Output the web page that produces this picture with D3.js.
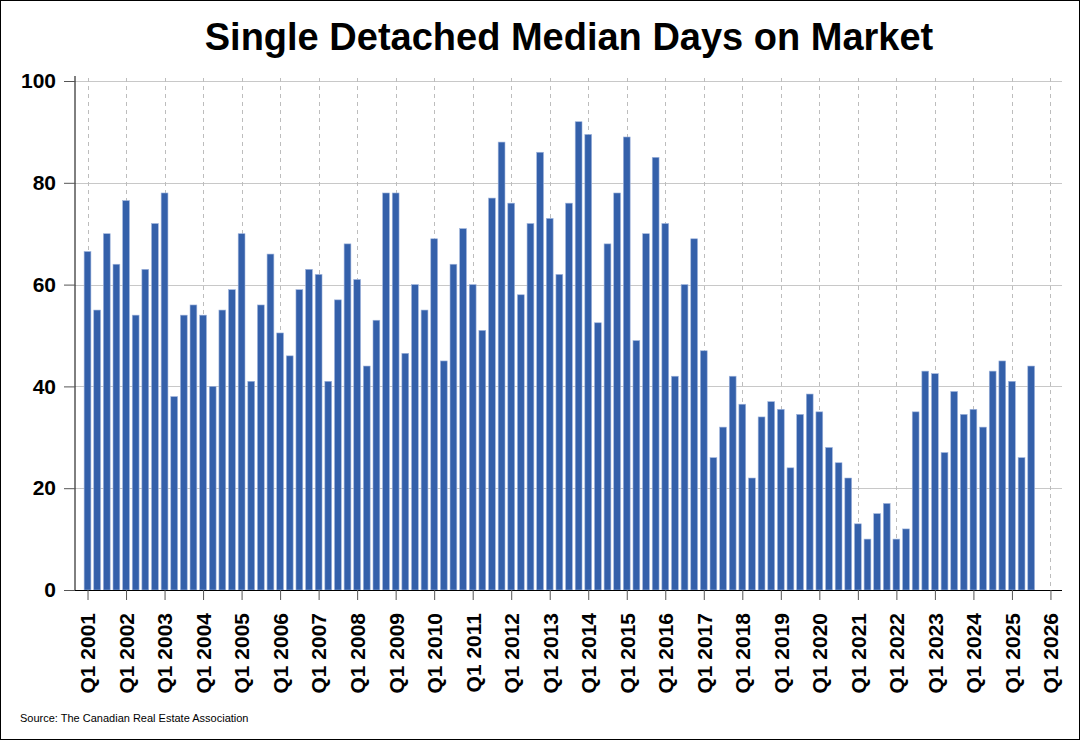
<!DOCTYPE html>
<html>
<head>
<meta charset="utf-8">
<script src="https://cdn.jsdelivr.net/npm/d3@7"></script>
<style>
  body { margin: 0; background: #fff; }
  svg { display: block; font-family: "Liberation Sans", Arial, sans-serif; }
</style>
</head>
<body>
<div id="chart"></div>
<script>
// quarterly values, Q1 2001 .. Q3 2025
var days = [
  66.5, 55, 70, 64,   76.5, 54, 63, 72,   78, 38, 54, 56,   54, 40, 55, 59,
  70, 41, 56, 66,     50.5, 46, 59, 63,   62, 41, 57, 68,   61, 44, 53, 78,
  78, 46.5, 60, 55,   69, 45, 64, 71,     60, 51, 77, 88,   76, 58, 72, 86,
  73, 62, 76, 92,     89.5, 52.5, 68, 78, 89, 49, 70, 85,   72, 42, 60, 69,
  47, 26, 32, 42,     36.5, 22, 34, 37,   35.5, 24, 34.5, 38.5,
  35, 28, 25, 22,     13, 10, 15, 17,     10, 12, 35, 43,   42.5, 27, 39, 34.5,
  35.5, 32, 43, 45,   41, 26, 44
];
var firstYear = 2001;
var lastTickYear = 2026;
var yTicks = [0, 20, 40, 60, 80, 100];

var svgWidth = 1080;
var svgHeight = 740;

var plot = { left: 75, right: 1062, top: 81, bottom: 590 };

var svg = d3.select("#chart")
  .append("svg")
  .attr("width", svgWidth)
  .attr("height", svgHeight);

// outer frame
svg.append("rect")
  .attr("x", 0.5).attr("y", 0.5)
  .attr("width", svgWidth - 1).attr("height", svgHeight - 1)
  .attr("fill", "none")
  .attr("stroke", "#000");

// scales: x in quarter index
var x = d3.scaleLinear()
  .domain([-1.3, 101.2])
  .range([plot.left, plot.right]);

var y = d3.scaleLinear()
  .domain([0, 100])
  .range([plot.bottom, plot.top]);

var yearTicks = d3.range(firstYear, lastTickYear + 1).map(yr => (yr - firstYear) * 4);

// horizontal gridlines
svg.append("g")
  .selectAll("line")
  .data(yTicks)
  .enter()
  .append("line")
  .attr("x1", plot.left).attr("x2", plot.right)
  .attr("y1", d => Math.round(y(d)) + 0.5)
  .attr("y2", d => Math.round(y(d)) + 0.5)
  .attr("stroke", "#c8c8c8")
  .attr("stroke-width", 1);

// vertical dashed gridlines at each Q1
svg.append("g")
  .selectAll("line")
  .data(yearTicks)
  .enter()
  .append("line")
  .attr("x1", d => Math.round(x(d)) + 0.5)
  .attr("x2", d => Math.round(x(d)) + 0.5)
  .attr("y1", plot.top - 3).attr("y2", plot.bottom)
  .attr("stroke", "#bdbdbd")
  .attr("stroke-dasharray", "4,4")
  .attr("stroke-width", 1);

// bars
var barW = 6.8;
svg.append("g")
  .selectAll("rect")
  .data(days)
  .enter()
  .append("rect")
  .attr("x", (d, i) => x(i) - barW / 2)
  .attr("y", d => y(d))
  .attr("width", barW)
  .attr("height", d => y(0) - y(d))
  .attr("fill", "#3460aa")
  .attr("stroke", "#9fb4dc")
  .attr("stroke-width", 0.6);

// y axis
var leftAxis = d3.axisLeft(y)
  .tickValues(yTicks)
  .tickSize(11)
  .tickPadding(8)
  .tickFormat(d3.format("d"));

var yAxis = svg.append("g")
  .attr("transform", `translate(${plot.left},0)`)
  .call(leftAxis);
yAxis.select(".domain").attr("d", `M0,${plot.top - 5}V${plot.bottom}`).attr("stroke", "#000");
yAxis.selectAll(".tick line").attr("stroke", "#555");
yAxis.selectAll("text")
  .attr("font-size", 21)
  .attr("font-weight", "bold")
  .attr("fill", "#000")
  .attr("font-family", "Liberation Sans, Arial, sans-serif");

// x axis
var bottomAxis = d3.axisBottom(x)
  .tickValues(yearTicks)
  .tickSize(10)
  .tickFormat(d => "Q1 " + (firstYear + d / 4));

var xAxis = svg.append("g")
  .attr("transform", `translate(0,${plot.bottom})`)
  .call(bottomAxis);
xAxis.select(".domain").attr("d", `M${plot.left},0.5H${plot.right}`).attr("stroke", "#000");
xAxis.selectAll(".tick line").attr("stroke", "#555");
xAxis.selectAll("text")
  .attr("transform", "rotate(-90)")
  .attr("text-anchor", "end")
  .attr("x", -23)
  .attr("y", 0)
  .attr("dy", "0.35em")
  .attr("font-size", 21)
  .attr("font-weight", "bold")
  .attr("fill", "#000")
  .attr("font-family", "Liberation Sans, Arial, sans-serif");

// title
svg.append("text")
  .attr("x", 569)
  .attr("y", 50)
  .attr("text-anchor", "middle")
  .attr("font-size", 38)
  .attr("font-weight", "bold")
  .text("Single Detached Median Days on Market");

// source
svg.append("text")
  .attr("x", 20)
  .attr("y", 722)
  .attr("font-size", 11)
  .text("Source: The Canadian Real Estate Association");
</script>
</body>
</html>
